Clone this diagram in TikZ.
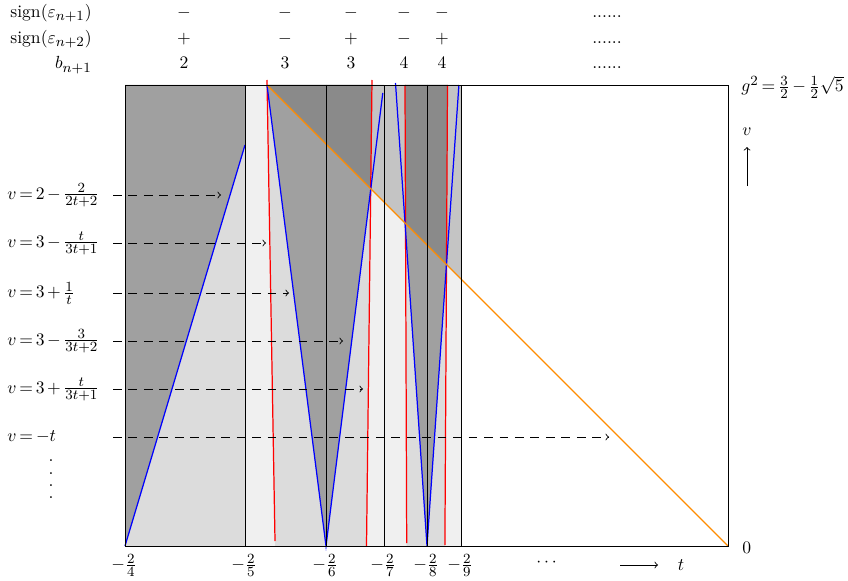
\documentclass[tikz,border=0pt]{standalone}
\usepackage{amsmath}
\DeclareMathSizes{10}{10}{8}{6}
\newcommand\tightmath{\thickmuskip=3mu plus 2mu\relax\medmuskip=2.5mu plus 1mu\relax}
\definecolor{cDark}{RGB}{138,138,138}
\definecolor{cMid}{RGB}{160,160,160}
\definecolor{cMed}{RGB}{196,196,196}
\definecolor{cLight}{RGB}{220,220,220}
\definecolor{cPale}{RGB}{240,240,240}
\definecolor{cOrange}{RGB}{255,140,0}
\begin{document}
\begin{tikzpicture}[x=0.02cm,y=-0.02cm,
  txt/.style={font=\fontsize{10}{12}\selectfont\tightmath},
  frameline/.style={black, line width=0.55pt},
  blueline/.style={blue, line width=0.7pt},
  redline/.style={red, line width=0.7pt},
  orangeline/.style={cOrange, line width=0.7pt},
  dasharrow/.style={->, dash pattern=on 5pt off 3.8pt, line width=0.5pt},
  lbl/.style={txt, anchor=west, inner sep=0pt},
  rowhead/.style={txt, anchor=base east, inner sep=0pt},
  cell/.style={txt, anchor=base, inner sep=0pt},
  ticklbl/.style={txt, inner sep=0pt},
  dotlbl/.style={txt, inner sep=0pt}]
\useasboundingbox (0,0) rectangle (848,581);

% ---------- fills ----------
\fill[cPale] (245,85) rectangle (461,546);
\fill[cLight] (125,85) rectangle (245,546);
\fill[cLight] (267.1,85) -- (326,85) -- (326,546) -- (275.1,546) -- cycle;
\fill[cLight] (326,85) -- (371.9,85) -- (366.5,546) -- (326,546) -- cycle;
\fill[cLight] (405,85) -- (427,85) -- (427,546) -- (406.7,546) -- cycle;
\fill[cLight] (427,85) -- (447.5,85) -- (444.9,546) -- (427,546) -- cycle;

\fill[cMid] (125,546) -- (245,145) -- (245,85) -- (125,85) -- cycle;
\fill[cMid] (267,85) -- (326,546) -- (326,85) -- cycle;
\fill[cMid] (326,546) -- (383.8,85) -- (326,85) -- cycle;
\fill[cMid] (427,546) -- (395.6,85) -- (427,85) -- cycle;
\fill[cMid] (427,546) -- (458.9,85) -- (427,85) -- cycle;

\begin{scope}
  \clip (267,85) -- (728,546) -- (728,85) -- cycle;
  \fill[cMed] (245,85) rectangle (461,546);
  \fill[cDark] (267.1,85) -- (326,85) -- (326,546) -- (275.1,546) -- cycle;
  \fill[cDark] (326,85) -- (371.9,85) -- (366.5,546) -- (326,546) -- cycle;
  \fill[cDark] (405,85) -- (427,85) -- (427,546) -- (406.7,546) -- cycle;
  \fill[cDark] (427,85) -- (447.5,85) -- (444.9,546) -- (427,546) -- cycle;
\end{scope}

% ---------- curves ----------
\coordinate (r1a) at (267,80);   \coordinate (r1b) at (275,541);
\coordinate (r2a) at (372,80);   \coordinate (r2b) at (366.5,546);
\coordinate (r3a) at (405,85);   \coordinate (r3b) at (406.7,543);
\coordinate (r4a) at (447.5,85); \coordinate (r4b) at (444.9,545);
\draw[redline] (r1a) -- (r1b);
\draw[redline] (r2a) -- (r2b);
\draw[redline] (r3a) -- (r3b);
\draw[redline] (r4a) -- (r4b);

\coordinate (bA0) at (125,546); \coordinate (bA1) at (245,145);
\coordinate (bB0) at (267,85);  \coordinate (bB1) at (326,546);
\coordinate (bC1) at (382.8,93);
\coordinate (bD0) at (395.5,83); \coordinate (bD1) at (427,546);
\coordinate (bE1) at (458.9,85);
\draw[blueline] (bA0) -- (bA1);
\draw[blueline] (bB0) -- (bB1) -- (bC1);
\draw[blueline] (bD0) -- (bD1) -- (bE1);

\coordinate (o0) at (267,85); \coordinate (o1) at (728,546);
\draw[orangeline] (o0) -- (o1);

% ---------- frame ----------
\coordinate (fTL) at (125,85); \coordinate (fTR) at (728,85);
\coordinate (fBL) at (125,546); \coordinate (fBR) at (728,546);
\draw[frameline] (fTL) -- (fTR) -- (fBR) -- (fBL) -- cycle;
\foreach \xx in {245,326,384,427,461}
  \draw[frameline] (\xx,85) -- (\xx,546);

% ---------- dashed arrows and labels ----------
\node[lbl] (l1) at (7,195) {$v=2-\frac{2}{2t+2}$};
\node[lbl] (l2) at (7,243) {$v=3-\frac{t}{3t+1}$};
\node[lbl] (l3) at (7,293) {$v=3+\frac{1}{t}$};
\node[lbl] (l4) at (7,341) {$v=3-\frac{3}{3t+2}$};
\node[lbl] (l5) at (7,389) {$v=3+\frac{t}{3t+1}$};
\node[lbl] (l6) at (7,437) {$v=-t$};
\node[dotlbl] (d1) at (51,461) {.};
\node[dotlbl] (d2) at (51,474) {.};
\node[dotlbl] (d3) at (51,486) {.};
\node[dotlbl] (d4) at (51,498) {.};

\coordinate (s1) at (113,195); \coordinate (e1) at (221,195);
\coordinate (s2) at (113,243); \coordinate (e2) at (266,243);
\coordinate (s3) at (113,293); \coordinate (e3) at (289,293);
\coordinate (s4) at (113,341); \coordinate (e4) at (343,341);
\coordinate (s5) at (113,389); \coordinate (e5) at (363,389);
\coordinate (s6) at (113,437); \coordinate (e6) at (609,437);
\draw[dasharrow] (s1) -- (e1);
\draw[dasharrow] (s2) -- (e2);
\draw[dasharrow] (s3) -- (e3);
\draw[dasharrow] (s4) -- (e4);
\draw[dasharrow] (s5) -- (e5);
\draw[dasharrow] (s6) -- (e6);

% ---------- top table ----------
\node[rowhead] (h1) at (92,17.6) {sign$(\varepsilon_{n+1})$};
\node[rowhead] (h2) at (92,43.2) {sign$(\varepsilon_{n+2})$};
\node[rowhead] (h3) at (92,69) {$b_{n+1}$};
\node[cell] (a1) at (184,17.6) {$-$};
\node[cell] (a2) at (285,17.6) {$-$};
\node[cell] (a3) at (351,17.6) {$-$};
\node[cell] (a4) at (404,17.6) {$-$};
\node[cell] (a5) at (442,17.6) {$-$};
\node[cell] (a6) at (607,17.6) {......};
\node[cell] (b1) at (184,43.2) {$+$};
\node[cell] (b2) at (285,43.2) {$-$};
\node[cell] (b3) at (351,43.2) {$+$};
\node[cell] (b4) at (404,43.2) {$-$};
\node[cell] (b5) at (442,43.2) {$+$};
\node[cell] (b6) at (607,43.2) {......};
\node[cell] (c1) at (184,69) {2};
\node[cell] (c2) at (285,69) {3};
\node[cell] (c3) at (351,69) {3};
\node[cell] (c4) at (404,69) {4};
\node[cell] (c5) at (442,69) {4};
\node[cell] (c6) at (607,69) {......};

% ---------- axis labels ----------
\node[ticklbl] (t4) at (124,565) {$-\frac{2}{4}$};
\node[ticklbl] (t5) at (244,565) {$-\frac{2}{5}$};
\node[ticklbl] (t6) at (325,565) {$-\frac{2}{6}$};
\node[ticklbl] (t7) at (383,565) {$-\frac{2}{7}$};
\node[ticklbl] (t8) at (426,565) {$-\frac{2}{8}$};
\node[ticklbl] (t9) at (460,565) {$-\frac{2}{9}$};
\node[ticklbl] (tdots) at (548,563) {$\cdots$};
\coordinate (ta0) at (620,565); \coordinate (ta1) at (658,565);
\draw[->, line width=0.5pt] (ta0) -- (ta1);
\node[ticklbl] (tl) at (681,565) {$t$};
\node[ticklbl, anchor=west] (zero) at (742,548) {$0$};

\node[ticklbl, anchor=west] (gsq) at (741,87) {$g^2=\frac{3}{2}-\frac{1}{2}\sqrt{5}$};
\node[ticklbl] (vl) at (747,132) {$v$};
\coordinate (va0) at (747,186); \coordinate (va1) at (747,147);
\draw[->, line width=0.5pt] (va0) -- (va1);
\end{tikzpicture}
\end{document}
